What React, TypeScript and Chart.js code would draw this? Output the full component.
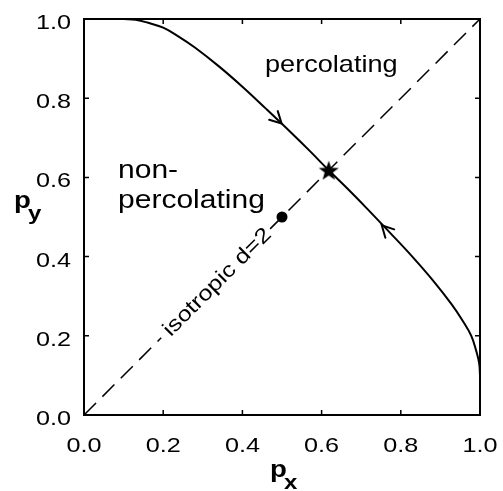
import { useEffect, useRef } from "react";
import { Chart, registerables } from "chart.js";

Chart.register(...registerables);

// Critical line of the anisotropic bond-percolation flow (p_x, p_y)
const criticalPx = [
  0.1, 0.13, 0.16, 0.2, 0.24, 0.28, 0.34, 0.4, 0.46, 0.52, 0.57, 0.618,
  0.667, 0.716, 0.773, 0.829, 0.881, 0.928, 0.955, 0.978, 0.991, 0.998, 1.0,
];
const criticalPy = [
  1.0, 0.998, 0.991, 0.978, 0.955, 0.928, 0.881, 0.829, 0.773, 0.716, 0.667, 0.618,
  0.57, 0.52, 0.46, 0.4, 0.34, 0.28, 0.24, 0.2, 0.16, 0.13, 0.1,
];

// Isotropic diagonal p_x = p_y, broken where its label sits
const isoPx = [0, 0.195, 0.33, 0.47, 1];
const isoPy: (number | null)[] = [0, 0.195, null, 0.47, 1];

// Nontrivial fixed point and the isotropic d=2 point
const fixedPoint = { x: 0.618, y: 0.618 };
const isoPoint = { x: 0.5, y: 0.5 };

// Flow arrows along the critical line (tips), pointing at the fixed point
const arrowPx = [0.499, 0.752];
const arrowPy = [0.736, 0.479];

const tickValues = [0, 0.2, 0.4, 0.6, 0.8, 1.0];

const FONT = "'Liberation Sans', Arial, Helvetica, sans-serif";
const STRETCH = 1.2;

function makeStar(): HTMLCanvasElement {
  const c = document.createElement("canvas");
  const size = 24;
  c.width = size;
  c.height = size;
  const g = c.getContext("2d")!;
  const cx = size / 2;
  const cy = size / 2 + 1;
  const R = 10.5;
  const r = 4.3;
  g.beginPath();
  for (let i = 0; i < 10; i++) {
    const rad = i % 2 === 0 ? R : r;
    const a = -Math.PI / 2 + (i * Math.PI) / 5;
    const px = cx + rad * Math.cos(a);
    const py = cy + rad * Math.sin(a);
    if (i === 0) g.moveTo(px, py);
    else g.lineTo(px, py);
  }
  g.closePath();
  g.fillStyle = "#000";
  g.fill();
  return c;
}

function drawText(
  ctx: CanvasRenderingContext2D,
  text: string,
  x: number,
  y: number,
  font: string,
  align: CanvasTextAlign = "left",
  baseline: CanvasTextBaseline = "alphabetic",
  angle = 0,
  stretch = STRETCH
) {
  ctx.save();
  ctx.translate(x, y);
  if (angle) ctx.rotate(angle);
  ctx.scale(stretch, 1);
  ctx.font = font;
  ctx.textAlign = align;
  ctx.textBaseline = baseline;
  ctx.fillStyle = "#000";
  ctx.fillText(text, 0, 0);
  ctx.restore();
}

const framePlugin = {
  id: "frameAndLabels",
  afterDraw(chart: any) {
    const { ctx, chartArea: a, scales } = chart;
    const xs = scales.x;
    const ys = scales.y;

    // frame
    ctx.save();
    ctx.strokeStyle = "#000";
    ctx.lineWidth = 2;
    ctx.strokeRect(a.left, a.top, a.right - a.left, a.bottom - a.top);

    // inward ticks on all four sides
    ctx.lineWidth = 1.5;
    const tl = 5;
    xs.ticks.forEach((t: any) => {
      const px = xs.getPixelForValue(t.value);
      ctx.beginPath();
      ctx.moveTo(px, a.bottom);
      ctx.lineTo(px, a.bottom - tl);
      ctx.moveTo(px, a.top);
      ctx.lineTo(px, a.top + tl);
      ctx.stroke();
    });
    ys.ticks.forEach((t: any) => {
      const py = ys.getPixelForValue(t.value);
      ctx.beginPath();
      ctx.moveTo(a.left, py);
      ctx.lineTo(a.left + tl, py);
      ctx.moveTo(a.right, py);
      ctx.lineTo(a.right - tl, py);
      ctx.stroke();
    });

    // flow arrows (open chevrons)
    ctx.lineWidth = 2;
    ctx.lineCap = "round";
    const fx = xs.getPixelForValue(fixedPoint.x);
    const fy = ys.getPixelForValue(fixedPoint.y);
    for (let i = 0; i < arrowPx.length; i++) {
      const tx = xs.getPixelForValue(arrowPx[i]);
      const ty = ys.getPixelForValue(arrowPy[i]);
      const ang = Math.atan2(fy - ty, fx - tx);
      const back = ang + Math.PI;
      const L = 13;
      const half = (28 * Math.PI) / 180;
      ctx.beginPath();
      ctx.moveTo(tx + L * Math.cos(back + half), ty + L * Math.sin(back + half));
      ctx.lineTo(tx, ty);
      ctx.lineTo(tx + L * Math.cos(back - half), ty + L * Math.sin(back - half));
      ctx.stroke();
    }
    ctx.restore();

    // tick labels
    const tickFont = `21px ${FONT}`;
    xs.ticks.forEach((t: any) => {
      drawText(ctx, t.label, xs.getPixelForValue(t.value), a.bottom + 36.5, tickFont, "center");
    });
    ys.ticks.forEach((t: any) => {
      drawText(ctx, t.label, a.left - 13, ys.getPixelForValue(t.value) + 10, tickFont, "right");
    });

    // axis titles with subscripts
    const cxMid = (a.left + a.right) / 2;
    const cyMid = (a.top + a.bottom) / 2;
    drawText(ctx, "p", cxMid - 12, a.bottom + 62, `bold 23px ${FONT}`);
    drawText(ctx, "x", cxMid + 2, a.bottom + 74, `bold 20px ${FONT}`);
    drawText(ctx, "p", 14, cyMid - 9, `bold 23px ${FONT}`);
    drawText(ctx, "y", 28, cyMid + 3, `bold 20px ${FONT}`);

    // region annotations
    drawText(ctx, "percolating", xs.getPixelForValue(0.457), ys.getPixelForValue(0.866), `24px ${FONT}`, "left", "alphabetic", 0, 1.13);
    const annFont = `25px ${FONT}`;
    drawText(ctx, "non-", xs.getPixelForValue(0.086), ys.getPixelForValue(0.598), annFont);
    drawText(ctx, "percolating", xs.getPixelForValue(0.086), ys.getPixelForValue(0.523), annFont);
    drawText(
      ctx,
      "isotropic d=2",
      xs.getPixelForValue(0.337),
      ys.getPixelForValue(0.335),
      `21px ${FONT}`,
      "center",
      "middle",
      -Math.PI / 4
    );
  },
};

export default function App() {
  const canvasRef = useRef<HTMLCanvasElement | null>(null);

  useEffect(() => {
    const canvas = canvasRef.current;
    if (!canvas) return;
    const star = makeStar();

    const chart = new Chart(canvas, {
      type: "scatter",
      data: {
        datasets: [
          {
            label: "fixed point",
            data: [fixedPoint],
            pointStyle: star as any,
            pointRadius: 10,
            showLine: false,
          },
          {
            label: "isotropic point",
            data: [isoPoint],
            pointStyle: "circle",
            pointRadius: 5.5,
            backgroundColor: "#000",
            borderColor: "#000",
            borderWidth: 0,
            showLine: false,
          },
          {
            label: "critical line",
            data: criticalPx.map((x, i) => ({ x, y: criticalPy[i] })),
            showLine: true,
            borderColor: "#000",
            borderWidth: 2,
            pointRadius: 0,
            tension: 0.4,
            fill: false,
          },
          {
            label: "isotropic",
            data: isoPx.map((x, i) => ({ x, y: isoPy[i] })) as any,
            showLine: true,
            spanGaps: false,
            borderColor: "#000",
            borderWidth: 1.5,
            borderDash: [17, 9],
            pointRadius: 0,
            fill: false,
          },
        ],
      },
      options: {
        responsive: false,
        animation: false,
        devicePixelRatio: 1,
        layout: { padding: { left: 0, top: 19, right: 23, bottom: 0 } },
        plugins: {
          legend: { display: false },
          tooltip: { enabled: false },
        },
        scales: {
          x: {
            type: "linear",
            min: 0,
            max: 1,
            afterFit: (s: any) => {
              s.height = 76;
            },
            afterBuildTicks: (s: any) => {
              s.ticks = tickValues.map((v) => ({ value: v }));
            },
            ticks: {
              display: false,
              callback: (v: any) => Number(v).toFixed(1),
            },
            grid: { display: false, drawTicks: false },
            border: { display: false },
          },
          y: {
            type: "linear",
            min: 0,
            max: 1,
            afterFit: (s: any) => {
              s.width = 84;
            },
            afterBuildTicks: (s: any) => {
              s.ticks = tickValues.map((v) => ({ value: v }));
            },
            ticks: {
              display: false,
              callback: (v: any) => Number(v).toFixed(1),
            },
            grid: { display: false, drawTicks: false },
            border: { display: false },
          },
        },
      },
      plugins: [framePlugin],
    });

    return () => chart.destroy();
  }, []);

  return (
    <div style={{ position: "fixed", left: 0, top: 0, width: 503, height: 491, background: "#fff" }}>
      <canvas ref={canvasRef} width={503} height={491} style={{ display: "block" }} />
    </div>
  );
}
